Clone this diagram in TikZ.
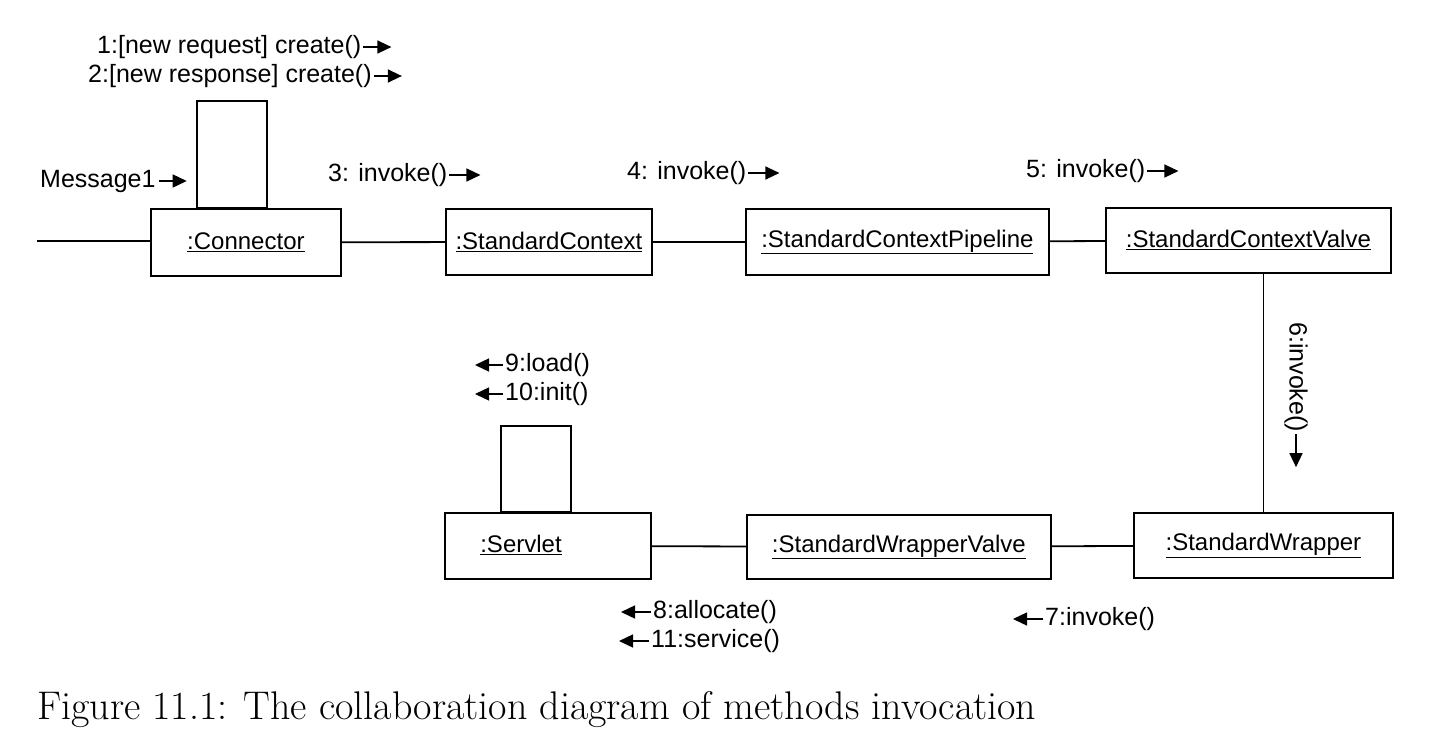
\documentclass[tikz,border=0pt]{standalone}
\usepackage{fontspec}
\newfontfamily\diafont{Liberation Sans}
\usetikzlibrary{arrows.meta}
\begin{document}
\begin{tikzpicture}[x=1pt,y=-1pt,
  obj/.style={draw,line width=1.8pt,inner sep=0pt,anchor=north west,
    font=\diafont\fontsize{24}{28}\selectfont},
  objtxt/.style={inner sep=0pt,font=\diafont\fontsize{24}{28}\selectfont},
  link/.style={line width=1.8pt},
  msglbl/.style={inner sep=0pt,anchor=west,font=\diafont\fontsize{25}{30}\selectfont},
  msg/.style={line width=1.4pt,-{Triangle[length=14pt,width=13pt]}}]
\useasboundingbox (0,0) rectangle (1438,750);

% objects
\node[obj,minimum width=190pt,minimum height=67pt] (conn) at (150,208) {\underline{:Connector}};
\node[obj,minimum width=206pt,minimum height=66pt] (ctx) at (445,208) {\underline{:StandardContext}};
\node[obj,minimum width=303pt,minimum height=66pt] (pipe) at (745,208) {\underline{:StandardContextPipeline}};
\node[obj,minimum width=285pt,minimum height=65pt] (valve) at (1105,207) {\underline{:StandardContextValve}};
\node[obj,minimum width=259pt,minimum height=65pt] (wrap) at (1133,512) {\underline{:StandardWrapper}};
\node[obj,minimum width=304pt,minimum height=64pt] (wvalve) at (746,514) {\underline{:StandardWrapperValve}};
\node[obj,minimum width=206pt,minimum height=66pt] (servlet) at (444,512) {};
\node[objtxt] (servlettxt) at (521,545) {\underline{:Servlet}};

% self loops
\draw[link] (conn.north west) ++(47,0) rectangle ++(70,-107);
\draw[link] (servlet.north west) ++(57,0) rectangle ++(70,-86);

% links
\coordinate (inl) at (37,241);
\draw[link] (inl) -- (inl -| conn.west);
\draw[link] (conn) -- (ctx);
\draw[link] (ctx) -- (pipe);
\draw[link] (pipe) -- (valve);
\draw[link] (wrap.north |- valve.south) -- (wrap.north);
\draw[link] (wrap) -- (wvalve);
\draw[link] (wvalve) -- (servlet);

% messages
\node[msglbl] (m1) at (97,47) {1:[new request] create()};
\draw[msg] ([xshift=2pt]m1.east) -- ++(28,0);
\node[msglbl] (m2) at (88,76) {2:[new response] create()};
\draw[msg] ([xshift=2pt]m2.east) -- ++(28,0);
\node[msglbl] (msg1) at (40,181) {Message1};
\draw[msg] ([xshift=3pt]msg1.east) -- ++(28,0);
\node[msglbl] (m3) at (328,175) {3: invoke()};
\draw[msg] ([xshift=2pt]m3.east) -- ++(31,0);
\node[msglbl] (m4) at (627,173) {4: invoke()};
\draw[msg] ([xshift=2pt]m4.east) -- ++(31,0);
\node[msglbl] (m5) at (1026,171) {5: invoke()};
\draw[msg] ([xshift=2pt]m5.east) -- ++(31,0);
\node[msglbl,rotate=-90] (m6) at (1296,322) {6:invoke()};
\draw[msg] ([yshift=-2pt]m6.east) -- ++(0,33);
\node[msglbl] (m9) at (505,365) {9:load()};
\draw[msg] ([xshift=-2pt]m9.west) -- ++(-28,0);
\node[msglbl] (m10) at (505,394) {10:init()};
\draw[msg] ([xshift=-2pt]m10.west) -- ++(-28,0);
\node[msglbl] (m8) at (653,612) {8:allocate()};
\draw[msg] ([xshift=-2pt]m8.west) -- ++(-30,0);
\node[msglbl] (m11) at (651,641) {11:service()};
\draw[msg] ([xshift=-2pt]m11.west) -- ++(-30,0);
\node[msglbl] (m7) at (1045,619) {7:invoke()};
\draw[msg] ([xshift=-2pt]m7.west) -- ++(-30,0);

% caption
\node[anchor=base west,inner sep=0pt,font=\fontsize{40}{48}\selectfont] (cap) at (37,719)
  {Figure 11.1: The collaboration diagram of methods invocation};
\end{tikzpicture}
\end{document}
